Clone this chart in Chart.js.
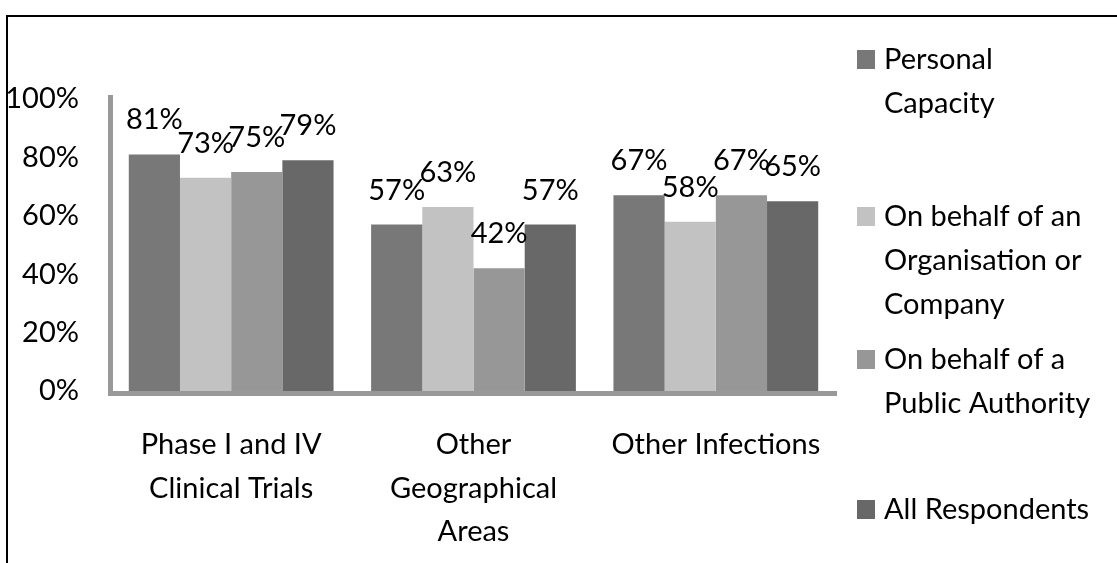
<!DOCTYPE html>
<html>
<head>
<meta charset="utf-8">
<script src="https://cdn.jsdelivr.net/npm/chart.js@4.4.1/dist/chart.umd.min.js"></script>
<style>
  html, body { margin: 0; padding: 0; background: #fff; }
  canvas { display: block; }
</style>
</head>
<body>
<canvas id="chart" width="1117" height="563"></canvas>
<script>
// --- Data ---
const categories = ['Phase I and IV Clinical Trials', 'Other Geographical Areas', 'Other Infections'];
const seriesNames = ['Personal Capacity', 'On behalf of an Organisation or Company', 'On behalf of a Public Authority', 'All Respondents'];
const personalCapacity = [81, 57, 67];
const organisation = [73, 63, 58];
const publicAuthority = [75, 42, 67];
const allRespondents = [79, 57, 65];
const yTicks = [0, 20, 40, 60, 80, 100];

const seriesColors = ['#787878', '#c2c2c2', '#979797', '#686868'];
const FONT_FAMILY = 'Lato, "Liberation Sans", sans-serif';
const FONT_SIZE = 29;
const FONT = FONT_SIZE + 'px ' + FONT_FAMILY;

// --- Helpers ---
const measureCtx = document.createElement('canvas').getContext('2d');
function wrapText(text, maxWidth) {
    measureCtx.font = FONT;
    const words = text.split(' ');
    const lines = [];
    let line = '';
    words.forEach(w => {
        const test = line ? line + ' ' + w : w;
        if (line && measureCtx.measureText(test).width > maxWidth) {
            lines.push(line);
            line = w;
        } else {
            line = test;
        }
    });
    if (line) lines.push(line);
    return lines;
}

// --- Plugins ---
const frameAndAxes = {
    id: 'frameAndAxes',
    beforeDraw(chart) {
        const ctx = chart.ctx;
        ctx.save();
        ctx.strokeStyle = '#000';
        ctx.lineWidth = 2;
        ctx.strokeRect(7, 16, 1300, 800);
        ctx.restore();
    },
    afterDatasetsDraw(chart) {
        const { left, right, top, bottom } = chart.chartArea;
        const ctx = chart.ctx;
        ctx.save();
        ctx.fillStyle = '#999999';
        ctx.fillRect(left - 2, top - 4, 5, bottom - top + 9);
        ctx.fillRect(left - 2, bottom, right - left + 2, 5);
        ctx.restore();
    }
};

const valueLabels = {
    id: 'valueLabels',
    afterDatasetsDraw(chart) {
        const ctx = chart.ctx;
        ctx.save();
        ctx.font = FONT;
        ctx.fillStyle = '#000';
        ctx.textAlign = 'center';
        ctx.textBaseline = 'alphabetic';
        chart.data.datasets.forEach((ds, i) => {
            chart.getDatasetMeta(i).data.forEach((bar, j) => {
                ctx.fillText(ds.data[j] + '%', bar.x, bar.y - 25);
            });
        });
        ctx.restore();
    }
};

const sideLegend = {
    id: 'sideLegend',
    afterDraw(chart) {
        const ctx = chart.ctx;
        const firstLineY = [60, 217, 360, 510];
        const lineHeight = 44;
        ctx.save();
        ctx.font = FONT;
        ctx.textAlign = 'left';
        ctx.textBaseline = 'middle';
        chart.data.datasets.forEach((ds, i) => {
            const y0 = firstLineY[i];
            ctx.fillStyle = ds.backgroundColor;
            ctx.fillRect(857, y0 - 10, 18, 19);
            ctx.fillStyle = '#000';
            wrapText(ds.label, 225).forEach((line, k) => {
                ctx.fillText(line, 884, y0 + k * lineHeight);
            });
        });
        ctx.restore();
    }
};

// --- Chart ---
const seriesValues = [personalCapacity, organisation, publicAuthority, allRespondents];

new Chart(document.getElementById('chart'), {
    type: 'bar',
    data: {
        labels: categories,
        datasets: seriesNames.map((name, i) => ({
            label: name,
            data: seriesValues[i],
            backgroundColor: seriesColors[i],
            borderWidth: 0,
            categoryPercentage: 0.845,
            barPercentage: 1
        }))
    },
    options: {
        responsive: false,
        animation: false,
        layout: { padding: { left: 7, top: 99, right: 280, bottom: 0 } },
        plugins: { legend: { display: false }, tooltip: { enabled: false } },
        scales: {
            x: {
                grid: { display: false, drawTicks: false },
                border: { display: false },
                ticks: {
                    color: '#000',
                    padding: 32,
                    maxRotation: 0,
                    autoSkip: false,
                    font: { family: FONT_FAMILY, size: FONT_SIZE, lineHeight: 1.5 },
                    callback: (v, i) => wrapText(categories[i], 225)
                },
                afterFit: scale => { scale.height = 563 - 391; }
            },
            y: {
                min: 0,
                max: 100,
                grid: { display: false, drawTicks: false },
                border: { display: false },
                afterBuildTicks: scale => { scale.ticks = yTicks.map(v => ({ value: v })); },
                ticks: {
                    color: '#000',
                    padding: 31,
                    font: { family: FONT_FAMILY, size: FONT_SIZE },
                    callback: v => v + '%'
                },
                afterFit: scale => { scale.width = 103; }
            }
        }
    },
    plugins: [frameAndAxes, valueLabels, sideLegend]
});
</script>
</body>
</html>
